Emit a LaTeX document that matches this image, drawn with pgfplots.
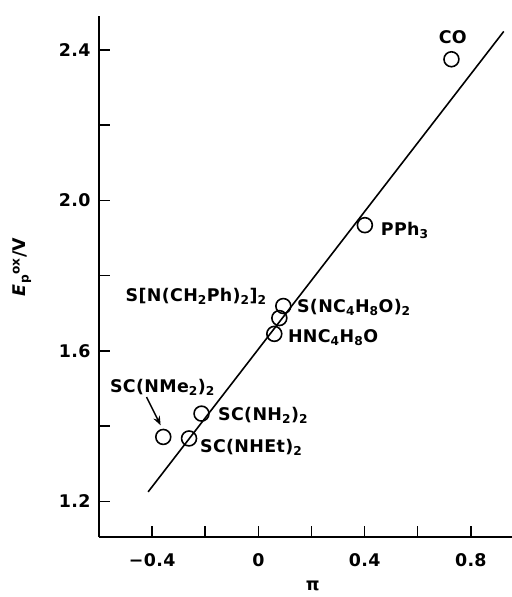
\documentclass[border=0pt]{standalone}
\usepackage{fontspec}
\setmainfont{DejaVu Sans}[LetterSpace=2]
\usepackage{pgfplots}
\pgfplotsset{compat=1.18}
\usetikzlibrary{arrows.meta}
\newcommand{\lf}{\fontsize{17.5}{20}\selectfont\bfseries}
\begin{document}
\begin{tikzpicture}
\begin{axis}[
  scale only axis, width=413bp, height=521bp,
  xmin=-0.6, xmax=0.955, ymin=1.105, ymax=2.49,
  axis x line*=bottom, axis y line*=left,
  axis line style={line width=1.7pt, -},
  tick align=inside,
  major tick length=11bp, minor tick length=11bp,
  every tick/.style={line width=1.5pt, black},
  xtick={-0.4,0,0.4,0.8}, xticklabels={−0.4,0,0.4,0.8},
  minor xtick={-0.2,0.2,0.6},
  ytick={1.2,1.6,2.0,2.4}, yticklabels={1.2,1.6,2.0,2.4},
  minor ytick={1.4,1.8,2.2},
  ticklabel style={font=\lf},
  yticklabel style={xshift=-5bp},
  xticklabel style={yshift=-13bp},
  clip=false,
]
\addplot[line width=1.6pt, black] coordinates {(-0.415,1.225) (0.924,2.449)};
\addplot[only marks, mark=o, mark size=7.5pt, mark options={line width=1.6pt, black}] coordinates {
  (0.727,2.375)
  (0.401,1.934)
  (0.094,1.719)
  (0.079,1.687)
  (0.060,1.645)
  (-0.214,1.433)
  (-0.261,1.367)
  (-0.358,1.371)
};
\node[font=\lf] at (axis cs:0.732,2.434) {CO};
\node[font=\lf, anchor=west, inner sep=0pt] at (axis cs:0.461,1.921) {PPh\textsubscript{3}};
\node[font=\lf, anchor=west, inner sep=0pt] at (axis cs:0.145,1.716) {S(NC\textsubscript{4}H\textsubscript{8}O)\textsubscript{2}};
\node[font=\lf, anchor=east, inner sep=0pt] at (axis cs:0.032,1.745) {S[N(CH\textsubscript{2}Ph)\textsubscript{2}]\textsubscript{2}};
\node[font=\lf, anchor=west, inner sep=0pt] at (axis cs:0.111,1.636) {HNC\textsubscript{4}H\textsubscript{8}O};
\node[font=\lf, anchor=west, inner sep=0pt] at (axis cs:-0.152,1.429) {SC(NH\textsubscript{2})\textsubscript{2}};
\node[font=\lf, anchor=west, inner sep=0pt] at (axis cs:-0.220,1.344) {SC(NHEt)\textsubscript{2}};
\node[font=\lf, anchor=west, inner sep=0pt] at (axis cs:-0.559,1.503) {SC(NMe\textsubscript{2})\textsubscript{2}};
\draw[line width=1.5pt, -{Stealth[length=9bp,width=7bp]}] (axis cs:-0.421,1.477) -- (axis cs:-0.368,1.402);
\node[font=\lf, rotate=90] at (axis cs:-0.890,1.823) {\textit{E}\textsubscript{p}\textsuperscript{ox}/V};
\node[font=\lf] at (axis cs:0.205,0.975) {π};
\end{axis}
\pgfresetboundingbox
\path[use as bounding box] ([shift={(-99bp,-60bp)}]current axis.south west) rectangle ([shift={(0bp,16bp)}]current axis.north east);
\end{tikzpicture}
\end{document}
